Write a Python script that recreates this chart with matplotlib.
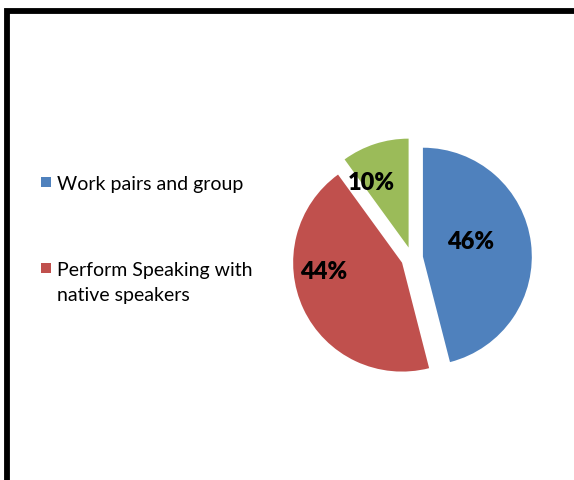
import matplotlib.pyplot as plt
from matplotlib.patches import Rectangle

# survey shares, clockwise from 12 o'clock
shares = [46, 44, 10]
colors = ['#4F81BD', '#C0504D', '#9BBB59']
legend_labels = ['Work pairs and group', 'Perform Speaking with\nnative speakers']

W, H = 574, 481
fig = plt.figure(figsize=(W / 100, H / 100), dpi=100)
plt.rcParams['font.family'] = ['Lato', 'DejaVu Sans']

# thick black frame, open at the right and bottom
fig.patches.append(Rectangle((7 / W, -0.2), 1.5, 1 - 12 / H + 0.2,
                             transform=fig.transFigure, fill=False,
                             edgecolor='black', linewidth=4.2))

# pie, 110 px per data unit, centred at (412, 259) px
half = 143
ax = fig.add_axes([(412 - half) / W, (H - 259 - half) / H, 2 * half / W, 2 * half / H])
wedges, texts, pcts = ax.pie(shares, colors=colors, startangle=90, counterclock=False,
                             explode=[0.1] * len(shares), radius=0.99,
                             autopct='%d%%', pctdistance=0.5,
                             wedgeprops=dict(linewidth=0),
                             textprops=dict(fontsize=17, fontweight='heavy', color='black'))
ax.set_xlim(-1.3, 1.3)
ax.set_ylim(-1.3, 1.3)
ax.axis('off')

# label placement inside each slice
label_pos = [(0.53, 0.15), (-0.8, -0.12), (-0.37, 0.69)]
for t, p in zip(pcts, label_pos):
    t.set_position(p)
    t.set_ha('center')
    t.set_va('center')

# legend drawn by hand: square key next to the first text line,
# each text line placed on its own baseline
legend_y = [183, 269]
for lab, col, y in zip(legend_labels, colors, legend_y):
    fig.patches.append(Rectangle((41 / W, 1 - (y + 5) / H), 10 / W, 10 / H,
                                 transform=fig.transFigure, facecolor=col,
                                 edgecolor='none'))
    for i, line in enumerate(lab.split('\n')):
        fig.text(57 / W, 1 - (y + 7 + 25 * i) / H, line, fontsize=14,
                 va='baseline', ha='left', color='black')

fig.savefig('out.png', dpi=100)
